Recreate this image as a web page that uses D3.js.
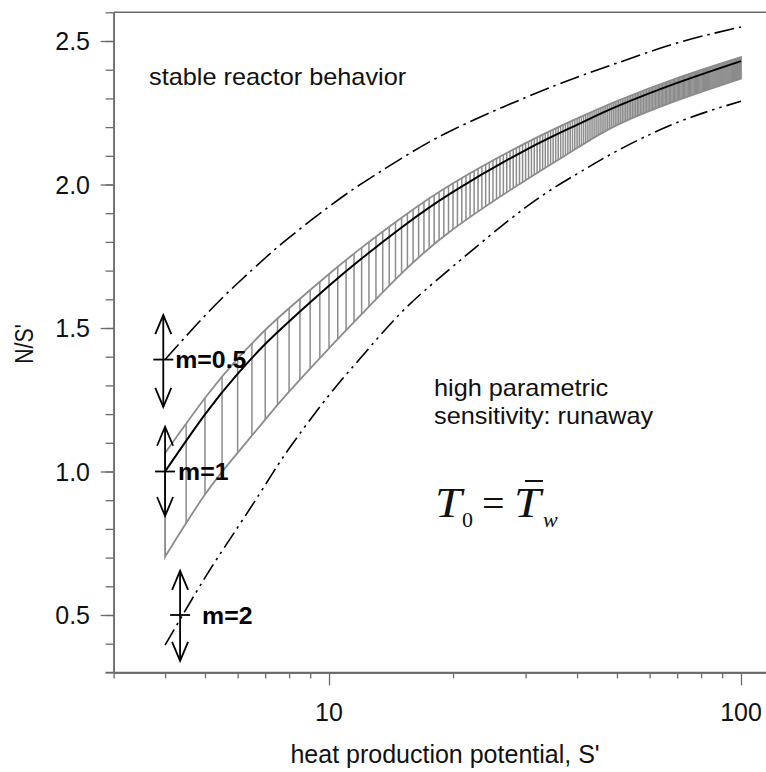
<!DOCTYPE html>
<html><head><meta charset="utf-8">
<script src="https://cdn.jsdelivr.net/npm/d3@7"></script>
<style>body{margin:0;background:#fff} svg{display:block}</style>
</head><body>
<svg id="chart" width="766" height="772"></svg>
<script>
// ---------------- data ----------------
const sValues   = [4, 5, 6, 7, 8, 10, 12, 15, 20, 30, 40, 50, 70, 100];
const m1Curve   = [1.000, 1.199, 1.340, 1.444, 1.523, 1.647, 1.742, 1.850, 1.974, 2.120, 2.208, 2.272, 2.354, 2.430];
const bandUpper = [1.064, 1.256, 1.393, 1.493, 1.569, 1.688, 1.780, 1.884, 2.004, 2.144, 2.230, 2.291, 2.371, 2.444];
const bandLower = [0.703, 0.920, 1.065, 1.181, 1.278, 1.429, 1.548, 1.690, 1.844, 2.015, 2.127, 2.207, 2.293, 2.369];
const m05Curve  = [1.390, 1.543, 1.656, 1.744, 1.815, 1.923, 2.003, 2.091, 2.191, 2.303, 2.374, 2.423, 2.493, 2.549];
const m2Curve   = [0.395, 0.630, 0.805, 0.953, 1.080, 1.266, 1.400, 1.555, 1.715, 1.920, 2.037, 2.117, 2.216, 2.290];

const markLabels = ["m=0.5", "m=1", "m=2"];
const markS      = [3.96, 4.0, 4.35];
const markN      = [1.39, 1.0, 0.5];
const markTop    = [1.545, 1.156, 0.654];
const markBottom = [1.225, 0.845, 0.34];

const hatchStep = 0.5;              // hatch lines every 0.5 in S'
const xMinorTicks = [3,4,5,6,7,8,9,20,30,40,50,60,70,80,90];
const xMajorTicks = [10, 100];
const yMajorTicks = [0.5, 1.0, 1.5, 2.0, 2.5];
const yMinorTicks = d3.range(3, 27).map(d => d / 10);

const xTitle = "heat production potential, S'";
const yTitle = "N/S'";
const noteStable = "stable reactor behavior";
const noteRunaway = ["high parametric", "sensitivity: runaway"];

// ---------------- layout ----------------
const W = 766, H = 772;
const x = d3.scaleLog().domain([3, 115]).range([113.6, 766]);
const y = d3.scaleLinear().domain([0.3, 2.6]).range([672.4, 12.3]);
const svg = d3.select('#chart');
const sans = "'Liberation Sans', Arial, sans-serif";
const serif = "'Liberation Serif', 'Times New Roman', serif";
const axisColor = '#6b6b6b';
const gray = '#8c8c8c';

const pts = arr => sValues.map((s, i) => [s, arr[i]]);
const line = d3.line().x(d => x(d[0])).y(d => y(d[1])).curve(d3.curveNatural);

// top frame line
svg.append('line').attr('x1', x(3)).attr('x2', W).attr('y1', y(2.6)).attr('y2', y(2.6))
  .attr('stroke', axisColor).attr('stroke-width', 1.5);

// y axis
const yg = svg.append('g').attr('transform', `translate(${x(3)},0)`);
yg.call(d3.axisLeft(y).tickValues(yMinorTicks).tickSize(8).tickSizeOuter(0).tickFormat(''));
yg.append('g').call(d3.axisLeft(y).tickValues(yMajorTicks).tickSize(13).tickSizeOuter(0).tickFormat(''));
yg.selectAll('path.domain').attr('stroke', axisColor).attr('stroke-width', 1.5);
yg.selectAll('.tick line').attr('stroke', axisColor).attr('stroke-width', 1.3);

svg.append('g').selectAll('text').data(yMajorTicks).join('text')
  .attr('x', 90).attr('y', d => y(d) + 9)
  .attr('text-anchor', 'end').attr('font-family', sans).attr('font-size', 25).attr('fill', '#111')
  .text(d => d3.format('.1f')(d));

// x axis
const xg = svg.append('g').attr('transform', `translate(0,${y(0.3)})`);
xg.call(d3.axisBottom(x).tickValues(xMinorTicks).tickSize(6).tickSizeOuter(0).tickFormat(''));
xg.append('g').call(d3.axisBottom(x).tickValues(xMajorTicks).tickSize(13).tickSizeOuter(0).tickFormat(''));
xg.selectAll('path.domain').attr('stroke', axisColor).attr('stroke-width', 1.5);
xg.selectAll('.tick line').attr('stroke', axisColor).attr('stroke-width', 1.3);
svg.append('line').attr('x1', x(3) - 8).attr('x2', W).attr('y1', y(0.3)).attr('y2', y(0.3))
  .attr('stroke', axisColor).attr('stroke-width', 1.5);

svg.append('g').selectAll('text').data(xMajorTicks).join('text')
  .attr('x', d => x(d)).attr('y', 721)
  .attr('text-anchor', 'middle').attr('font-family', sans).attr('font-size', 25).attr('fill', '#111')
  .text(d => d);

// axis titles
svg.append('text').attr('x', 445).attr('y', 763).attr('text-anchor', 'middle')
  .attr('font-family', sans).attr('font-size', 25).attr('fill', '#111').text(xTitle);
svg.append('text').attr('transform', 'translate(33,344) rotate(-90) scale(0.85,1)')
  .attr('text-anchor', 'middle').attr('font-family', sans).attr('font-size', 25).attr('fill', '#111').text(yTitle);

// ---------------- band (m = 1) ----------------
const bandPts = sValues.map((s, i) => [s, bandLower[i], bandUpper[i]]);
const area = d3.area().x(d => x(d[0])).y0(d => y(d[1])).y1(d => y(d[2])).curve(d3.curveNatural);
svg.append('clipPath').attr('id', 'bandClip').append('path').attr('d', area(bandPts));
const hatchS = d3.range(sValues[0], sValues[sValues.length - 1] + 1e-6, hatchStep);
svg.append('g').attr('clip-path', 'url(#bandClip)').selectAll('line').data(hatchS).join('line')
  .attr('x1', d => x(d)).attr('x2', d => x(d)).attr('y1', y(2.6)).attr('y2', y(0.3))
  .attr('stroke', gray).attr('stroke-width', 1.5);
svg.append('path').attr('d', area(bandPts)).attr('fill', 'none')
  .attr('stroke', gray).attr('stroke-width', 1.8).attr('stroke-linejoin', 'miter');

// central m=1 line
svg.append('path').attr('d', line(pts(m1Curve))).attr('fill', 'none')
  .attr('stroke', '#000').attr('stroke-width', 2);

// m=0.5 dash-dot, m=2 dash-dot-dot
svg.append('path').attr('d', line(pts(m05Curve))).attr('fill', 'none')
  .attr('stroke', '#000').attr('stroke-width', 1.6).attr('stroke-dasharray', '20,5,2.5,5');
svg.append('path').attr('d', line(pts(m2Curve))).attr('fill', 'none')
  .attr('stroke', '#000').attr('stroke-width', 1.6).attr('stroke-dasharray', '18,5,2.5,5,2.5,5');

// ---------------- m markers (double arrows) ----------------
const labelDx = [12, 13, 22];
markLabels.forEach((lab, i) => {
  const cx = x(markS[i]);
  const yt = y(markTop[i]), yb = y(markBottom[i]), ym = y(markN[i]);
  const g = svg.append('g').attr('stroke', '#000').attr('stroke-width', 1.8).attr('fill', 'none');
  g.append('line').attr('x1', cx).attr('x2', cx).attr('y1', yt).attr('y2', yb);
  g.append('path').attr('d', `M${cx - 8},${yt + 19}L${cx},${yt}L${cx + 8},${yt + 19}`);
  g.append('path').attr('d', `M${cx - 8},${yb - 19}L${cx},${yb}L${cx + 8},${yb - 19}`);
  g.append('line').attr('x1', cx - 10).attr('x2', cx + 10).attr('y1', ym).attr('y2', ym);
  svg.append('text').attr('transform', `translate(${cx + labelDx[i]},${ym + 8.5}) scale(1.08,1)`)
    .attr('font-family', sans).attr('font-weight', 'bold').attr('font-size', 23).attr('fill', '#000')
    .text(lab);
});

// ---------------- annotations ----------------
svg.append('text').attr('transform', 'translate(149,85) scale(1.1,1)')
  .attr('font-family', sans).attr('font-size', 23).attr('fill', '#111').text(noteStable);
noteRunaway.forEach((t, i) => {
  svg.append('text').attr('transform', `translate(434,${396 + i * 28}) scale(1.1,1)`)
    .attr('font-family', sans).attr('font-size', 23).attr('fill', '#111').text(t);
});

// formula T0 = T̄w
const fg = svg.append('g').attr('fill', '#111').attr('font-family', serif);
fg.append('text').attr('transform', 'translate(435,517) scale(1.12,1)')
  .attr('font-style', 'italic').attr('font-size', 43).text('T');
fg.append('text').attr('x', 462).attr('y', 527).attr('font-size', 22).text('0');
fg.append('text').attr('x', 482).attr('y', 517).attr('font-size', 40).text('=');
fg.append('text').attr('transform', 'translate(514,517) scale(1.12,1)')
  .attr('font-style', 'italic').attr('font-size', 43).text('T');
fg.append('line').attr('x1', 525).attr('x2', 543).attr('y1', 481).attr('y2', 481)
  .attr('stroke', '#111').attr('stroke-width', 2);
fg.append('text').attr('x', 543).attr('y', 527).attr('font-style', 'italic').attr('font-size', 22).text('w');
</script>
</body></html>
